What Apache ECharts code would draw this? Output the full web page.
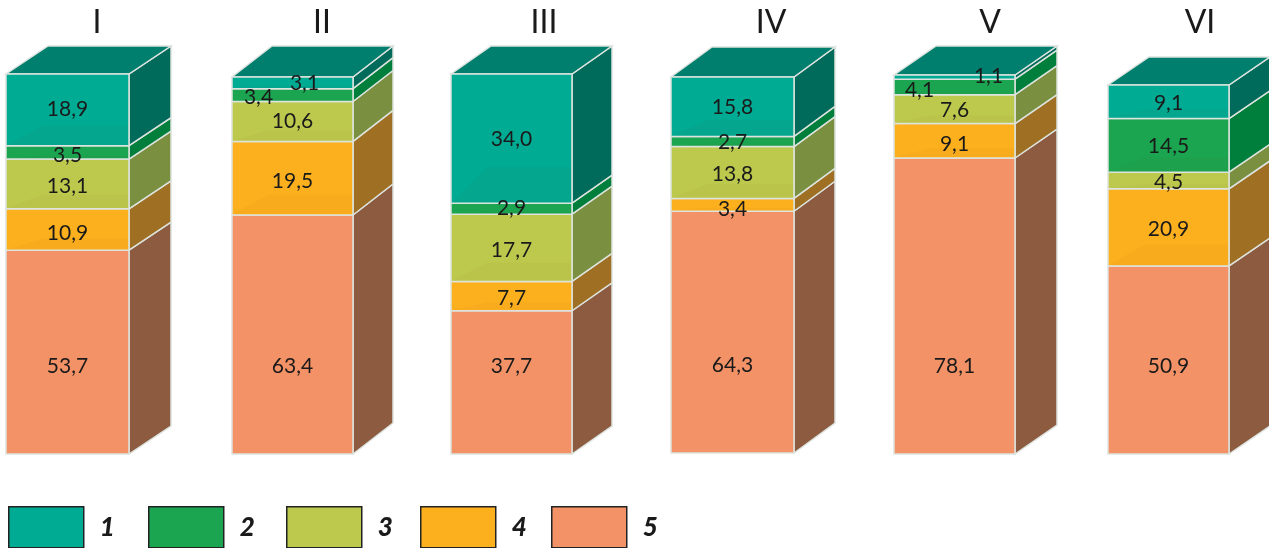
<!DOCTYPE html>
<html>
<head>
<meta charset="utf-8">
<title>Stacked columns I-VI</title>
<script src="https://cdn.jsdelivr.net/npm/echarts@6/dist/echarts.min.js"></script>
<style>
  html, body { margin: 0; padding: 0; background: #fff; overflow: hidden; }
  #chart { width: 1269px; height: 548px; }
</style>
</head>
<body>
<div id="chart"></div>
<script>
  // data
  var columns = ['I', 'II', 'III', 'IV', 'V', 'VI'];
  var layerNames = ['1', '2', '3', '4', '5'];
  var layer1 = [18.9, 3.1, 34.0, 15.8, 1.1, 9.1];
  var layer2 = [3.5, 3.4, 2.9, 2.7, 4.1, 14.5];
  var layer3 = [13.1, 10.6, 17.7, 13.8, 7.6, 4.5];
  var layer4 = [10.9, 19.5, 7.7, 3.4, 9.1, 20.9];
  var layer5 = [53.7, 63.4, 37.7, 64.3, 78.1, 50.9];
  var layers = [layer1, layer2, layer3, layer4, layer5];

  // layout of the six columns
  var gridLeft = [6, 232, 451, 671, 894, 1108];
  var gridWidth = [123, 121, 121, 123, 121, 121];
  var gridTop = [74, 77, 74, 77, 75, 85];
  var gridBottom = [454, 454, 454, 453, 454, 454];
  var depthX = [42, 40, 40, 41, 42, 41];
  var depthY = [28, 31, 28, 30, 29, 28];
  var titleX = [97, 322, 544, 771, 990, 1200];

  // colours per layer
  var frontColors = ['#00ab94', '#1ba550', '#bdc94d', '#fdb01e', '#f39267'];
  var sideColors = ['#006b5a', '#007f3c', '#7a9040', '#9f7023', '#8c5b40'];
  var topColor = '#007f6e';
  var edgeColor = '#dde3de';

  // labels that sit away from the middle of their band, key is column-layer: [dx, dy]
  var labelNudge = {
    '0-0': [0, -1], '0-1': [0, 3], '0-3': [0, 4],
    '1-0': [12, 0], '1-1': [-34, 2], '1-2': [0, 0], '1-3': [0, 3],
    '2-0': [0, 1], '2-1': [0, 0],
    '3-0': [0, 1], '3-1': [0, 1], '3-3': [0, 4],
    '4-0': [34, -1], '4-1': [-35, 3], '4-2': [0, 1], '4-3': [0, 3],
    '5-0': [0, 1], '5-1': [0, 1]
  };
  var bottomLabelLift = 88;

  function comma(v) {
    return v.toFixed(1).replace('.', ',');
  }

  function makeRenderItem(col, layer) {
    return function (params, api) {
      var start = api.coord([0, api.value(1)]);
      var end = api.coord([0, api.value(2)]);
      var w = api.size([1, 0])[0];
      var x0 = start[0] - w / 2;
      var x1 = start[0] + w / 2;
      var yb = start[1];
      var yt = end[1];
      var h = yb - yt;
      var dx = depthX[col];
      var dy = depthY[col];
      var lineStyle = { stroke: edgeColor, lineWidth: 1.5 };
      var children = [];

      // side face
      children.push({
        type: 'polygon',
        shape: { points: [[x1, yb], [x1 + dx, yb - dy], [x1 + dx, yt - dy], [x1, yt]] },
        style: Object.assign({ fill: sideColors[layer] }, lineStyle)
      });
      // top face only on the highest layer
      if (layer === 0) {
        children.push({
          type: 'polygon',
          shape: { points: [[x0, yt], [x0 + dx, yt - dy], [x1 + dx, yt - dy], [x1, yt]] },
          style: Object.assign({ fill: topColor }, lineStyle)
        });
      }
      // front face
      children.push({
        type: 'rect',
        shape: { x: x0, y: yt, width: w, height: h },
        style: Object.assign({ fill: frontColors[layer] }, lineStyle)
      });
      // slight darker band low on the front
      if (layer < 4 && h > 10) {
        children.push({
          type: 'polygon',
          shape: { points: [[x0 + 1, yb - 1], [x0 + w * 0.3, yt + h * 0.72], [x1 - 1, yt + h * 0.72], [x1 - 1, yb - 1]] },
          style: { fill: 'rgba(120,60,0,0.035)' }
        });
      }

      var nudge = labelNudge[col + '-' + layer] || [0, 2];
      var labelY = layer === 4 ? yb - bottomLabelLift : yt + h / 2 + nudge[1];
      children.push({
        type: 'text',
        z2: 50,
        style: {
          text: comma(api.value(3)),
          x: start[0] + nudge[0],
          y: labelY,
          align: 'center',
          verticalAlign: 'middle',
          font: '21px Lato',
          fill: '#1a1a1a'
        }
      });
      return { type: 'group', children: children };
    };
  }

  var grids = [], xAxes = [], yAxes = [], titles = [], series = [];

  columns.forEach(function (name, col) {
    var total = layers.reduce(function (sum, l) { return sum + l[col]; }, 0);
    grids.push({ left: gridLeft[col], width: gridWidth[col], top: gridTop[col], height: gridBottom[col] - gridTop[col] });
    xAxes.push({ type: 'category', gridIndex: col, data: [name], show: false });
    yAxes.push({ type: 'value', gridIndex: col, min: 0, max: total, show: false });
    titles.push({
      text: name,
      left: titleX[col],
      top: 7,
      textAlign: 'center',
      padding: 0,
      textStyle: { fontFamily: 'Lato', fontSize: 32, fontWeight: 'normal', color: '#1a1a1a' }
    });

    // stack from the bottom layer upward
    var base = 0;
    for (var layer = layers.length - 1; layer >= 0; layer--) {
      var v = layers[layer][col];
      series.push({
        name: layerNames[layer],
        type: 'custom',
        coordinateSystem: 'cartesian2d',
        xAxisIndex: col,
        yAxisIndex: col,
        itemStyle: { color: frontColors[layer] },
        renderItem: makeRenderItem(col, layer),
        data: [[0, base, base + v, v]],
        silent: true
      });
      base += v;
    }
  });

  var legendLeft = [8, 148, 286, 420, 551];
  var legends = layerNames.map(function (n, i) {
    return {
      data: [{ name: n, icon: 'rect' }],
      left: legendLeft[i],
      top: 506,
      padding: 0,
      itemWidth: 75,
      itemHeight: 41,
      selectedMode: false,
      itemStyle: { borderColor: '#222', borderWidth: 1.5 },
      textStyle: {
        fontFamily: 'Lato',
        fontSize: 26,
        fontStyle: 'italic',
        fontWeight: 900,
        color: '#1a1a1a',
        padding: [0, 0, 0, 11]
      }
    };
  });

  var chart = echarts.init(document.getElementById('chart'));
  chart.setOption({
    animation: false,
    backgroundColor: '#ffffff',
    title: titles,
    legend: legends,
    grid: grids,
    xAxis: xAxes,
    yAxis: yAxes,
    series: series
  });
</script>
</body>
</html>
